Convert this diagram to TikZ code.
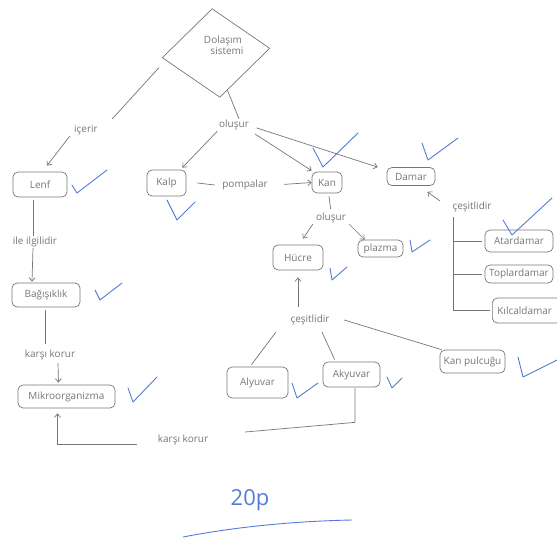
\documentclass[tikz,border=0pt]{standalone}
\usepackage{fontspec}
\setmainfont{Open Sans}
\usetikzlibrary{shapes.geometric,arrows.meta,calc}
\definecolor{pencil}{RGB}{118,118,118}
\definecolor{inkblue}{RGB}{84,124,212}
\begin{document}
\begin{tikzpicture}[x=1pt,y=-1pt,
  every node/.style={text=pencil, font=\fontsize{10}{11}\selectfont},
  kutu/.style={draw=pencil, line width=0.7pt, rounded corners=5pt, inner sep=0pt},
  etiket/.style={inner sep=1pt},
  cizgi/.style={draw=pencil, line width=0.7pt},
  ok/.style={cizgi, -{Straight Barb[length=3.5pt,width=6pt]}},
  onay/.style={draw=inkblue, line width=0.9pt, line join=round, line cap=round}]
\useasboundingbox (0,0) rectangle (557,539);

% root diamond
\node[draw=pencil, line width=0.7pt, diamond, minimum width=108pt, minimum height=89pt,
      inner sep=0pt, rotate=5] (dol) at (216,53) {};
\node[align=center, inner sep=0pt] (dolyazi) at (223,45) {Dolaşım\\\hspace{8pt}sistemi};

% boxes
\node[kutu, minimum width=54pt, minimum height=25pt] (lenf) at (40,184.5) {Lenf};
\node[kutu, minimum width=39pt, minimum height=26pt] (kalp) at (166.5,183) {Kalp};
\node[kutu, minimum width=30pt, minimum height=21pt] (kan) at (327,182.5) {Kan};
\node[kutu, minimum width=48pt, minimum height=18pt] (damar) at (411,176.5) {Damar};
\node[kutu, minimum width=50pt, minimum height=25pt] (hucre) at (298,257.5) {Hücre};
\node[kutu, minimum width=45pt, minimum height=17pt] (plazma) at (380.5,248.5) {plazma};
\node[kutu, minimum width=68pt, minimum height=22pt] (atar) at (519,241) {Atardamar};
\node[kutu, minimum width=68pt, minimum height=18pt] (topl) at (519,274) {Toplardamar};
\node[kutu, anchor=west, minimum height=25pt, text width=66pt, inner xsep=5pt, align=left] (kilcal) at (492,310.5) {Kılcaldamar};
\node[kutu, minimum width=68pt, minimum height=24pt] (bag) at (46,295) {Bağışıklık};
\node[kutu, minimum width=97pt, minimum height=23pt] (mik) at (66.5,396.5) {Mikroorganizma};
\node[kutu, minimum width=61pt, minimum height=31pt] (alyu) at (257.5,382.5) {Alyuvar};
\node[kutu, minimum width=57pt, minimum height=25pt] (akyu) at (351.5,374.5) {Akyuvar};
\node[kutu, minimum width=65pt, minimum height=23pt] (kanp) at (472.5,361.5) {Kan pulcuğu};

% link labels
\node[etiket, minimum width=28pt] (icerir) at (86,130) {içerir};
\node[etiket, minimum width=33pt] (olusur1) at (234,125) {oluşur};
\node[etiket, minimum width=60pt] (pomp) at (245,185) {pompalar};
\node[etiket, minimum width=42pt] (olusur2) at (331,218) {oluşur};
\node[etiket, minimum width=60pt] (cesit1) at (472,207) {çeşitlidir};
\node[etiket, minimum width=54pt] (ile) at (35,242) {ile ilgilidir};
\node[etiket, minimum width=62pt] (kk1) at (50,355) {karşı korur};
\node[etiket, minimum width=60pt] (cesit2) at (310,320) {çeşitlidir};
\node[etiket, minimum width=80pt] (kk2) at (183,440) {karşı korur};

% connectors from the root
\draw[cizgi] ([xshift=-3pt,yshift=-10pt]dol.west) -- ([xshift=12pt,yshift=5pt]icerir.north east);
\draw[ok] ([xshift=-2pt]icerir.south west) -- ([xshift=7pt,yshift=6pt]lenf.north);
\draw[cizgi] ($(dol.south)!0.15!(dol.east)$) -- ([xshift=5pt]olusur1.north);
\draw[ok] (olusur1.south west) -- ([xshift=-4pt,yshift=2pt]kalp.north east);
\draw[ok, shorten <=5pt] (olusur1.south east) -- ([yshift=1pt]kan.north west);
\draw[ok, shorten <=6pt] ([yshift=-1pt]olusur1.east) -- ([xshift=-9pt]damar.north west);

% heart pumps blood
\draw[cizgi] ([xshift=11pt]kalp.east) -- (pomp.west);
\draw[ok, shorten <=9pt] (pomp.east) -- (kan.west);

% blood consists of
\draw[cizgi, shorten >=3pt] ([xshift=2pt,yshift=-3pt]kan.south) -- (olusur2.north);
\draw[ok] ([xshift=3pt]olusur2.south west) -- ([xshift=5pt,yshift=6pt]hucre.north);
\draw[ok] ([xshift=-3pt]olusur2.south east) -- ([xshift=7pt]plazma.north west);

% vessel types
\draw[ok] ([xshift=-2pt]cesit1.north west) -- ([xshift=-8pt,yshift=-6pt]damar.south east);
\coordinate (kol) at (453,217);
\draw[cizgi] (kol) |- ([xshift=-2pt]kilcal.west);
\draw[cizgi] (kol |- atar.west) -- ([xshift=-3pt]atar.west);
\draw[cizgi] (kol |- topl.west) -- ([xshift=-3pt]topl.west);

% lymph and immunity
\draw[cizgi] ([xshift=-7pt,yshift=-3pt]lenf.south) -- ([xshift=-2pt]ile.north);
\draw[ok] ([xshift=-2pt]ile.south) -- ([xshift=-14pt,yshift=1pt]bag.north);
\draw[cizgi] ([xshift=-1pt,yshift=-3pt]bag.south) -- ([xshift=-5pt,yshift=5pt]kk1.north);
\draw[ok] ([xshift=8pt,yshift=-2pt]kk1.south) -- ([xshift=-8pt,yshift=2pt]mik.north);

% blood cell types
\draw[ok, shorten <=7pt, shorten >=7pt] (hucre.south |- cesit2.north) -- (hucre.south);
\draw[cizgi] ([xshift=-4pt,yshift=-6pt]cesit2.south west) -- ([xshift=-6pt,yshift=2pt]alyu.north);
\draw[cizgi] ([xshift=12pt,yshift=-6pt]cesit2.south) -- ([xshift=12pt,yshift=2pt]akyu.north west);
\draw[cizgi] ([xshift=4pt]cesit2.east) -- ([xshift=2pt]kanp.north west);

% white cells protect against microorganisms
\draw[cizgi] ([xshift=3.5pt,yshift=-1pt]akyu.south) -- ++(0,34) -- ([xshift=22pt,yshift=8pt]kk2.east);
\draw[ok] ([xshift=-6pt,yshift=-4pt]kk2.west) -| ([xshift=-9pt,yshift=-5pt]mik.south);

% ticks
\draw[onay] (72,185) -- (77,193) -- (107,170);
\draw[onay] (167,200) -- (177,220) -- (195,202);
\draw[onay] (313,148) -- (323,167) -- (358,133);
\draw[onay] (422,143) -- (428,160) -- (458,138);
\draw[onay] (503,220) -- (512,235) -- (552,198);
\draw[onay] (410,240) -- (412,252) -- (430,240);
\draw[onay] (330,268) -- (332,280) -- (347,267);
\draw[onay] (95,290) -- (100,300) -- (122,283);
\draw[onay] (128,388) -- (133,402) -- (157,377);
\draw[onay] (292,383) -- (297,398) -- (318,383);
\draw[onay] (387,377) -- (392,388) -- (402,378);
\draw[onay] (518,357) -- (523,377) -- (557,360);

% score
\node[text=inkblue, font=\fontsize{22}{24}\selectfont] (puan) at (250,500) {20p};
\draw[draw=inkblue, line width=0.9pt] (183,537) .. controls (240,526) and (300,521) .. (352,520);
\end{tikzpicture}
\end{document}
